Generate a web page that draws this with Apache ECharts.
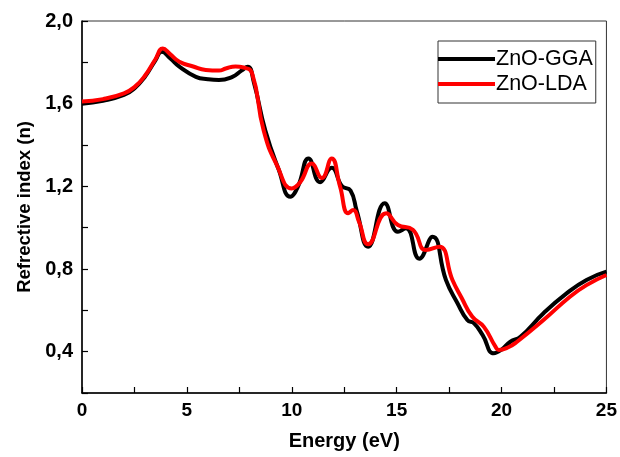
<!DOCTYPE html>
<html><head><meta charset="utf-8">
<script src="https://cdn.jsdelivr.net/npm/echarts@6/dist/echarts.min.js"></script>
<style>html,body{margin:0;padding:0;background:#fff}#c{width:620px;height:457px}</style>
</head><body><div id="c"></div>
<script>
var ggaE = [0,1,2,2.5,3,3.5,3.8,4.2,4.64,5.43,6.0,6.53,7.17,7.6,7.9,8.2,8.74,9.38,9.93,10.3,10.8,11.35,11.9,12.4,12.8,13.1,13.64,14.43,15.06,15.45,16.08,16.71,17.35,17.9,18.37,18.69,19.1,19.63,20.0,20.42,20.9,22.0,23.1,24.05,25];
var ggaN = [1.60,1.614,1.642,1.674,1.73,1.81,1.851,1.82,1.779,1.73,1.718,1.714,1.73,1.76,1.779,1.70,1.47,1.28,1.15,1.20,1.335,1.22,1.29,1.20,1.18,1.08,0.908,1.118,0.98,0.997,0.85,0.956,0.747,0.634,0.553,0.537,0.48,0.392,0.41,0.448,0.472,0.586,0.682,0.747,0.787];
var ldaE = [0,1,2,2.5,3,3.5,3.85,4.2,4.64,5.3,5.9,6.53,6.85,7.32,7.7,8.11,8.66,9.3,10.0,10.4,10.95,11.43,11.9,12.3,12.69,12.93,13.2,13.64,14.5,15.06,15.77,16.4,17.03,17.66,18.1,18.6,19.16,19.71,19.87,20.3,20.74,22.0,23.26,24.05,25];
var ldaN = [1.61,1.622,1.65,1.68,1.735,1.815,1.867,1.84,1.803,1.78,1.763,1.76,1.77,1.78,1.775,1.747,1.47,1.30,1.19,1.22,1.31,1.24,1.335,1.2,1.07,1.085,1.03,0.92,1.07,1.013,0.99,0.892,0.908,0.747,0.66,0.57,0.52,0.424,0.408,0.42,0.448,0.553,0.666,0.722,0.771];
var seriesNames = ['ZnO-GGA','ZnO-LDA'];
var xTickLabels = ['0','5','10','15','20','25'];

function pairs(a,b){return a.map(function(v,i){return [v,b[i]];});}
var chart = echarts.init(document.getElementById('c'));
var FONT = '"Liberation Sans", Arial, sans-serif';
chart.setOption({
  animation:false,
  backgroundColor:'#fff',
  grid:{left:82,right:10,top:21,bottom:64,show:true,borderColor:'#333',borderWidth:1,backgroundColor:'transparent'},
  legend:{
    data:seriesNames, orient:'vertical', left:438, top:41,
    icon:'rect', itemWidth:57, itemHeight:4, itemGap:3,
    padding:[7,3,8,0], borderColor:'#333', borderWidth:1,
    textStyle:{fontFamily:FONT,fontSize:21.5,color:'#000',padding:[0,0,0,-4]}
  },
  xAxis:{
    type:'value', min:0, max:25, interval:2.5,
    name:'Energy (eV)', nameLocation:'middle', nameGap:38,
    nameTextStyle:{fontFamily:FONT,fontSize:20,fontWeight:'bold',color:'#000'},
    axisLine:{lineStyle:{color:'#000',width:1.5}},
    axisTick:{inside:true,length:6,lineStyle:{color:'#000',width:1.2}},
    axisLabel:{fontFamily:FONT,fontSize:19,fontWeight:'bold',color:'#000',margin:8,
      formatter:function(v){var i=Math.round(v/5);return Math.abs(v-i*5)<1e-6?xTickLabels[i]:'';}},
    splitLine:{show:false}
  },
  yAxis:{
    type:'value', min:0.2, max:2.0, interval:0.2,
    name:'Refrective index (n)', nameLocation:'middle', nameGap:46, nameRotate:90,
    nameTextStyle:{fontFamily:FONT,fontSize:18.5,fontWeight:'bold',color:'#000'},
    axisLine:{show:true,lineStyle:{color:'#000',width:1.5}},
    axisTick:{inside:true,length:6,lineStyle:{color:'#000',width:1.2}},
    axisLabel:{fontFamily:FONT,fontSize:20,fontWeight:'bold',color:'#000',margin:9,
      formatter:function(v){var k=v/0.4;return Math.abs(k-Math.round(k))<1e-6?v.toFixed(1).replace('.',','):'';}},
    splitLine:{show:false}
  },
  series:[
    {name:seriesNames[0],type:'line',data:pairs(ggaE,ggaN),smooth:0.5,showSymbol:false,symbol:'none',
     lineStyle:{color:'#000',width:4},itemStyle:{color:'#000'}},
    {name:seriesNames[1],type:'line',data:pairs(ldaE,ldaN),smooth:0.5,showSymbol:false,symbol:'none',
     lineStyle:{color:'#ff0000',width:4},itemStyle:{color:'#ff0000'}}
  ]
});
</script></body></html>
